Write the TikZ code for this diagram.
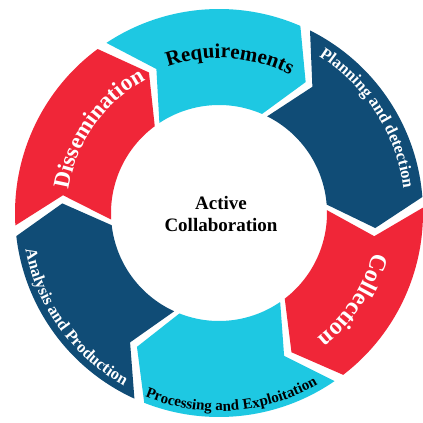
\documentclass[tikz,border=0pt]{standalone}
\usepackage{fontspec}
\setmainfont{Liberation Serif}
\usetikzlibrary{decorations.text}
\definecolor{ringcyan}{RGB}{30, 200, 226}
\definecolor{ringblue}{RGB}{16, 76, 118}
\definecolor{ringred}{RGB}{240, 38, 56}
\newcommand{\ringfont}[1]{\bfseries\fontsize{#1}{#1}\selectfont}
\tikzset{%
    pics/chevron/.style n args={3}{%
        code={%
            \fill[#3] ({#1-1.5}:204pt)
                arc[start angle=#1-1.5, end angle=#2+1.5, radius=204pt]
                -- ({#2+1.5-10}:157pt)
                -- ({#2+1.5}:108pt)
                arc[start angle=#2+1.5, end angle=#1-1.5, radius=108pt]
                -- ({#1-1.5-10}:157pt)
                -- cycle;
        }
    }
}

\begin{document}
\begin{tikzpicture}

    \fill[white] (-219pt, -210pt) rectangle (204pt, 213pt);
    \useasboundingbox (-219pt, -210pt) rectangle (204pt, 213pt);

    % Ring of arrows, clockwise
    \path (0, 0) pic {chevron={125}{65}{ringcyan}}
          (0, 0) pic {chevron={65}{3}{ringblue}}
          (0, 0) pic {chevron={3}{-54}{ringred}}
          (0, 0) pic {chevron={-54}{-113}{ringcyan}}
          (0, 0) pic {chevron={-113}{-175}{ringblue}}
          (0, 0) pic {chevron={185}{125}{ringred}};

    % Labels on the upper half
    \path[decorate, decoration={text along path, text align=center,
            text={|\ringfont{21}|Requirements}}]
        (121:155pt) arc[start angle=121, end angle=51, radius=155pt];

    \path[decorate, decoration={text along path, text align=center,
            text={|\color{white}\ringfont{16.5}|Planning and detection}}]
        (67.5:186pt) arc[start angle=67.5, end angle=-2.5, radius=186pt];

    \path[decorate, decoration={text along path, text align=center,
            text={|\color{white}\ringfont{24}|Collection}}]
        (2:159pt) arc[start angle=2, end angle=-68, radius=159pt];

    \path[decorate, decoration={text along path, text align=center,
            text={|\color{white}\ringfont{23}|Dissemination}}]
        (180:152pt) arc[start angle=180, end angle=110, radius=152pt];

    % Labels on the lower half
    \path[decorate, decoration={text along path, text align=center,
            text={|\ringfont{15}|Processing and Exploitation}}]
        (-121:198pt) arc[start angle=-121, end angle=-51, radius=198pt];

    \path[decorate, decoration={text along path, text align=center,
            text={|\color{white}\ringfont{16.5}|Analysis and Production}}]
        (-179:197pt) arc[start angle=-179, end angle=-109, radius=197pt];

    % Centre
    \node[align=center, font=\bfseries\fontsize{19}{22}\selectfont]
        (centre) at (2pt, -1pt) {Active\\Collaboration};

\end{tikzpicture}
\end{document}
